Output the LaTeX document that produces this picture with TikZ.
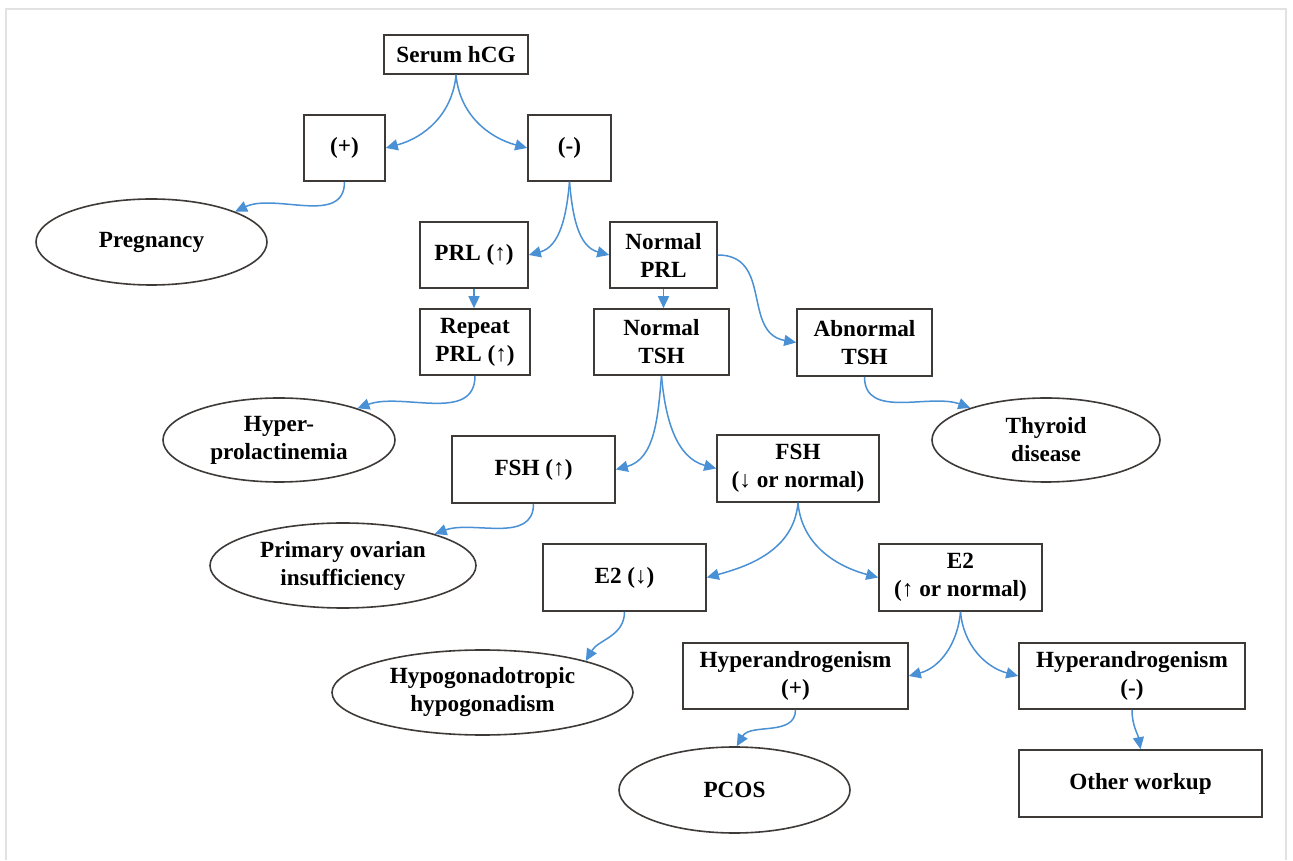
\documentclass[tikz,border=0pt]{standalone}
\usepackage{fontspec}
\setmainfont{Liberation Serif}
\usetikzlibrary{arrows.meta,shapes.geometric}
\definecolor{linkblue}{RGB}{74,144,212}
\definecolor{edgegray}{RGB}{62,58,56}
\definecolor{framegray}{RGB}{226,226,226}

\begin{document}
\begin{tikzpicture}[x=1pt,y=1pt,
  lbl/.style={font=\bfseries\fontsize{23.2}{28}\selectfont, align=center},
  box/.style={lbl, rectangle, draw=edgegray, line width=1.6pt, fill=white, inner sep=0pt},
  oval/.style={lbl, ellipse, draw=edgegray, line width=1.6pt, fill=white, inner sep=0pt},
  link/.style={draw=linkblue, line width=1.5pt, -{Triangle[width=11pt,length=12pt]}}]

\useasboundingbox (0,0) rectangle (1293,860);
% outer frame
\draw[framegray, line width=2pt] (6,0) -- (6,851) -- (1286,851) -- (1286,0);

% decision boxes
\node[box, minimum width=144, minimum height=39] (hcg)  at (456,805.5) {Serum hCG};
\node[box, minimum width=81,  minimum height=66] (pos)  at (344.5,712) {(+)};
\node[box, minimum width=83,  minimum height=66] (neg)  at (569.5,712) {(-)};
\node[box, minimum width=108, minimum height=66] (prl)  at (474,605) {PRL (↑)};
\node[box, minimum width=107, minimum height=66] (nprl) at (663.5,605) {Normal\\PRL};
\node[box, minimum width=110, minimum height=66] (rprl) at (475,518) {Repeat\\PRL (↑)};
\node[box, minimum width=135, minimum height=66] (ntsh) at (661.5,518) {Normal\\TSH};
\node[box, minimum width=135, minimum height=67] (atsh) at (864.5,517.5) {Abnormal\\TSH};
\node[box, minimum width=163, minimum height=67] (fshu) at (533.5,390.5) {FSH (↑)};
\node[box, minimum width=162, minimum height=67] (fshd) at (798,391.5) {FSH\\(↓ or normal)};
\node[box, minimum width=163, minimum height=67] (e2d)  at (624.5,282.5) {E2 (↓)};
\node[box, minimum width=163, minimum height=67] (e2u)  at (960.5,282.5) {E2\\(↑ or normal)};
\node[box, minimum width=225, minimum height=66] (hap)  at (795.5,184) {Hyperandrogenism\\(+)};
\node[box, minimum width=226, minimum height=66] (han)  at (1132,184) {Hyperandrogenism\\(-)};
\node[box, minimum width=243, minimum height=67] (other) at (1140.5,76.5) {Other workup};

% diagnoses
\node[oval, minimum width=231, minimum height=86] (preg) at (151.5,618) {Pregnancy};
\node[oval, minimum width=232, minimum height=84] (hprl) at (279,420) {Hyper-\\prolactinemia};
\node[oval, minimum width=228, minimum height=84] (thy)  at (1046,420) {Thyroid\\disease};
\node[oval, minimum width=266, minimum height=85] (poi)  at (343,294.5) {Primary ovarian\\insufficiency};
\node[oval, minimum width=301, minimum height=85] (hypo) at (482.5,167.5) {Hypogonadotropic\\hypogonadism};
\node[oval, minimum width=231, minimum height=86] (pcos) at (734.5,70) {PCOS};

% connectors
\draw[link] (hcg.south) to[out=-95,in=15] (pos.east);
\draw[link] (hcg.south) to[out=-85,in=165] (neg.west);
\draw[link] (pos.south) to[out=-90,in=25] (preg.20);
\draw[link] (neg.south) to[out=-95,in=15] (prl.east);
\draw[link] (neg.south) to[out=-85,in=165] (nprl.west);
\draw[link] (prl.south) -- (prl.south |- rprl.north);
\draw[link] (nprl.south) -- (nprl.south |- ntsh.north);
\draw[link] (nprl.east) to[out=0,in=170,looseness=1.2] (atsh.west);
\draw[link] (rprl.south) to[out=-90,in=20] (hprl.22);
\draw[link] (atsh.south) to[out=-90,in=160] (thy.157);
\draw[link] (ntsh.south) to[out=-95,in=15] (fshu.east);
\draw[link] (ntsh.south) to[out=-85,in=165] (fshd.west);
\draw[link] (fshu.south) to[out=-90,in=20] (poi.19);
\draw[link] (fshd.south) to[out=-95,in=15] (e2d.east);
\draw[link] (fshd.south) to[out=-85,in=165] (e2u.west);
\draw[link] (e2d.south) to[out=-90,in=60] (hypo.17);
\draw[link] (e2u.south) to[out=-95,in=15] (hap.east);
\draw[link] (e2u.south) to[out=-85,in=165] (han.west);
\draw[link] (hap.south) to[out=-90,in=60] (pcos.87);
\draw[link] (han.south) to[out=-90,in=100] (other.north);
\end{tikzpicture}
\end{document}
